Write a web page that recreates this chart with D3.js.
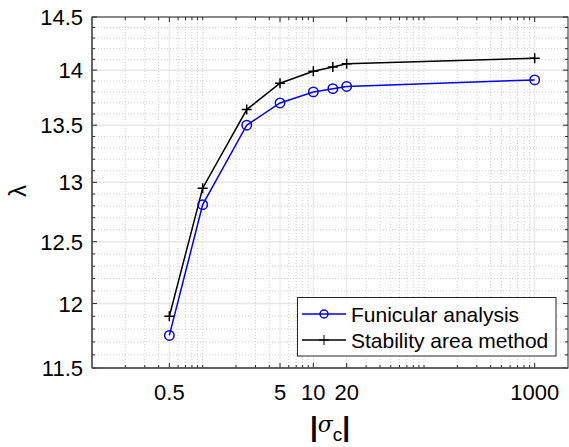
<!DOCTYPE html>
<html>
<head>
<meta charset="utf-8">
<script src="https://cdn.jsdelivr.net/npm/d3@7"></script>
<style>
  body { margin: 0; background: #fff; }
  svg { display: block; font-family: "Liberation Sans", Arial, sans-serif; }
</style>
</head>
<body>
<div id="chart"></div>
<script>
// data
const sigma = [0.5, 1, 2.5, 5, 10, 15, 20, 1000];
const funicular = [11.75, 12.81, 13.50, 13.70, 13.80, 13.83, 13.85, 13.91];
const stability = [11.90, 12.95, 13.64, 13.88, 13.99, 14.03, 14.06, 14.11];
const xTicks = [0.5, 5, 10, 20, 1000];
const yTicks = [11.5, 12, 12.5, 13, 13.5, 14, 14.5];
const seriesNames = ["Funicular analysis", "Stability area method"];

const W = 569, H = 447;
const pL = 92, pT = 17, pR = 568, pB = 368;
const axisColor = "#262626";

const svg = d3.select("#chart").append("svg")
   .attr("width", W).attr("height", H);

const x = d3.scaleLog().domain([0.1, 2000]).range([pL, pR]);
const y = d3.scaleLog().domain([11.5, 14.5]).range([pB, pT]);

// minor positions
let xMinor = [];
for (let d = -1; d <= 3; d++)
  for (let k = 1; k <= 9; k++) {
    const v = +(k * Math.pow(10, d)).toPrecision(6);
    if (v > 0.1 && v < 2000 && xTicks.indexOf(v) < 0) xMinor.push(v);
  }
let yMinor = d3.range(116, 145).map(v => v / 10).filter(v => Math.round(v * 10) % 5 != 0);

// grid
const grid = svg.append("g");
grid.selectAll(".gxm").data(xMinor).enter().append("line")
   .attr("x1", d => x(d)).attr("x2", d => x(d))
   .attr("y1", pT).attr("y2", pB)
   .attr("stroke", "#cfcfcf").attr("stroke-width", 1).attr("stroke-dasharray", "1,2");
grid.selectAll(".gym").data(yMinor).enter().append("line")
   .attr("y1", d => y(d)).attr("y2", d => y(d))
   .attr("x1", pL).attr("x2", pR)
   .attr("stroke", "#cfcfcf").attr("stroke-width", 1).attr("stroke-dasharray", "1,2");
grid.selectAll(".gx").data(xTicks).enter().append("line")
   .attr("x1", d => x(d)).attr("x2", d => x(d))
   .attr("y1", pT).attr("y2", pB)
   .attr("stroke", "#e6e6e6").attr("stroke-width", 1);
grid.selectAll(".gy").data(yTicks).enter().append("line")
   .attr("y1", d => y(d)).attr("y2", d => y(d))
   .attr("x1", pL).attr("x2", pR)
   .attr("stroke", "#e6e6e6").attr("stroke-width", 1.5);

// lines
const line = d3.line().x(d => x(d[0])).y(d => y(d[1]));
const fData = sigma.map((s, i) => [s, funicular[i]]);
const sData = sigma.map((s, i) => [s, stability[i]]);

svg.append("path").datum(sData).attr("d", line)
   .attr("fill", "none").attr("stroke", "#000").attr("stroke-width", 1.5);
svg.append("path").datum(fData).attr("d", line)
   .attr("fill", "none").attr("stroke", "#0000ff").attr("stroke-width", 1.5);

svg.append("g").selectAll("path").data(sData).enter().append("path")
   .attr("d", d => `M${x(d[0]) - 5},${y(d[1])}h10M${x(d[0])},${y(d[1]) - 5}v10`)
   .attr("stroke", "#000").attr("stroke-width", 1.5);
svg.append("g").selectAll("circle").data(fData).enter().append("circle")
   .attr("cx", d => x(d[0])).attr("cy", d => y(d[1])).attr("r", 4.7)
   .attr("fill", "none").attr("stroke", "#0000ff").attr("stroke-width", 1.5);

// axes (box with ticks on all sides)
const ax = svg.append("g").attr("stroke", axisColor).attr("stroke-width", 1);
ax.append("rect").attr("x", pL).attr("y", pT)
   .attr("width", pR - pL).attr("height", pB - pT).attr("fill", "none");
xTicks.forEach(v => {
  ax.append("line").attr("x1", x(v)).attr("x2", x(v)).attr("y1", pB).attr("y2", pB - 5);
  ax.append("line").attr("x1", x(v)).attr("x2", x(v)).attr("y1", pT).attr("y2", pT + 5);
});
xMinor.forEach(v => {
  ax.append("line").attr("x1", x(v)).attr("x2", x(v)).attr("y1", pB).attr("y2", pB - 3);
  ax.append("line").attr("x1", x(v)).attr("x2", x(v)).attr("y1", pT).attr("y2", pT + 3);
});
yTicks.forEach(v => {
  ax.append("line").attr("y1", y(v)).attr("y2", y(v)).attr("x1", pL).attr("x2", pL + 5);
  ax.append("line").attr("y1", y(v)).attr("y2", y(v)).attr("x1", pR).attr("x2", pR - 5);
});
yMinor.forEach(v => {
  ax.append("line").attr("y1", y(v)).attr("y2", y(v)).attr("x1", pL).attr("x2", pL + 3);
  ax.append("line").attr("y1", y(v)).attr("y2", y(v)).attr("x1", pR).attr("x2", pR - 3);
});
ax.append("line").attr("x1", pL).attr("x2", pL).attr("y1", pT).attr("y2", pB)
   .attr("stroke", "#555").attr("stroke-width", 1.5);
ax.append("line").attr("x1", pL).attr("x2", pR).attr("y1", pB).attr("y2", pB)
   .attr("stroke", "#555").attr("stroke-width", 1.5);

// tick labels
svg.append("g").selectAll("text").data(xTicks).enter().append("text")
   .attr("x", d => x(d)).attr("y", 400)
   .attr("text-anchor", "middle").attr("font-size", 22).attr("fill", "#000")
   .text(d => d);
svg.append("g").selectAll("text").data(yTicks).enter().append("text")
   .attr("x", 83).attr("y", d => y(d) + 8)
   .attr("text-anchor", "end").attr("font-size", 22).attr("fill", "#000")
   .text(d => d);

// axis labels
svg.append("text").attr("transform", "translate(26,191) rotate(-90)")
   .attr("text-anchor", "middle").attr("font-size", 24).text("λ");
const xl = svg.append("text").attr("x", 330).attr("y", 436)
   .attr("text-anchor", "middle").attr("font-size", 26);
xl.append("tspan").attr("font-weight", "bold").attr("font-size", 28).text("|");
xl.append("tspan").attr("font-style", "italic").attr("font-size", 22).attr("font-family", "DejaVu Serif").attr("dy", -4).text("σ");
xl.append("tspan").attr("font-size", 19).attr("dy", 9).text("c");
xl.append("tspan").attr("font-weight", "bold").attr("font-size", 28).attr("dy", -5).text("|");

// legend
const lg = svg.append("g");
lg.append("rect").attr("x", 297.5).attr("y", 297.5).attr("width", 258.5).attr("height", 58.5)
   .attr("fill", "#fff").attr("stroke", axisColor).attr("stroke-width", 1);
const rows = [{name: seriesNames[0], color: "#0000ff", y: 314}, {name: seriesNames[1], color: "#000", y: 340}];
rows.forEach((r, i) => {
  lg.append("line").attr("x1", 302).attr("x2", 346).attr("y1", r.y).attr("y2", r.y)
    .attr("stroke", r.color).attr("stroke-width", 1.5);
  if (i == 0)
    lg.append("circle").attr("cx", 324).attr("cy", r.y).attr("r", 4)
      .attr("fill", "none").attr("stroke", r.color).attr("stroke-width", 1.5);
  else
    lg.append("path").attr("d", `M319,${r.y}h10M324,${r.y - 5}v10`)
      .attr("stroke", r.color).attr("stroke-width", 1);
  lg.append("text").attr("x", 351).attr("y", r.y + 7.5)
    .attr("font-size", 21).text(r.name);
});
</script>
</body>
</html>
